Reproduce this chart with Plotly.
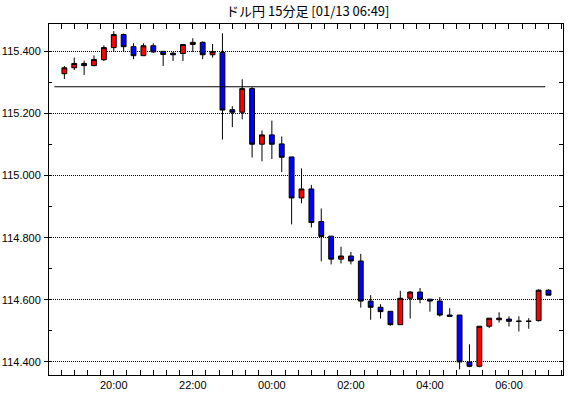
import pandas as pd
import plotly.graph_objects as go

title_text = "ドル円 15分足 [01/13 06:49]"

# 15-minute candles, 2022-01-12 18:45 ... 2022-01-13 07:00 (period timestamps)
times = pd.date_range("2022-01-12 18:45", periods=50, freq="15min")

opens = [115.328, 115.347, 115.361, 115.354, 115.373, 115.412, 115.454, 115.415, 115.386, 115.418,
         115.400, 115.394, 115.393, 115.422, 115.429, 115.389, 115.396, 115.212, 115.204, 115.280,
         115.101, 115.131, 115.102, 115.060, 114.928, 114.957, 114.852, 114.805, 114.731, 114.741,
         114.725, 114.596, 114.576, 114.563, 114.520, 114.605, 114.625, 114.602, 114.596, 114.551,
         114.551, 114.400, 114.386, 114.515, 114.536, 114.538, 114.531, 114.531, 114.533, 114.631]
highs = [115.353, 115.380, 115.370, 115.387, 115.419, 115.465, 115.457, 115.426, 115.426, 115.426,
         115.400, 115.398, 115.422, 115.442, 115.432, 115.424, 115.458, 115.223, 115.310, 115.285,
         115.145, 115.177, 115.126, 115.060, 115.023, 114.970, 114.894, 114.805, 114.771, 114.754,
         114.748, 114.615, 114.586, 114.563, 114.629, 114.628, 114.638, 114.603, 114.609, 114.573,
         114.551, 114.457, 114.515, 114.541, 114.560, 114.547, 114.547, 114.541, 114.634, 114.634]
lows = [115.311, 115.340, 115.324, 115.352, 115.369, 115.398, 115.398, 115.375, 115.386, 115.395,
        115.353, 115.369, 115.369, 115.398, 115.375, 115.380, 115.116, 115.156, 115.181, 115.058,
        115.046, 115.053, 115.011, 114.843, 114.911, 114.833, 114.724, 114.714, 114.717, 114.714,
        114.575, 114.536, 114.540, 114.517, 114.520, 114.540, 114.589, 114.562, 114.546, 114.547,
        114.376, 114.383, 114.383, 114.509, 114.527, 114.514, 114.498, 114.507, 114.530, 114.615]
closes = [115.347, 115.361, 115.354, 115.374, 115.412, 115.454, 115.415, 115.386, 115.418, 115.398,
          115.390, 115.389, 115.422, 115.429, 115.389, 115.399, 115.211, 115.204, 115.280, 115.101,
          115.131, 115.101, 115.059, 114.928, 114.957, 114.849, 114.804, 114.731, 114.741, 114.725,
          114.596, 114.576, 114.562, 114.520, 114.605, 114.625, 114.602, 114.596, 114.551, 114.547,
          114.400, 114.386, 114.515, 114.541, 114.541, 114.531, 114.531, 114.531, 114.631, 114.615]

ref_level = 115.286
ref_start = "2022-01-12 18:30"
ref_end = "2022-01-13 06:55"

y_ticks = [114.4, 114.6, 114.8, 115.0, 115.2, 115.4]
y_tick_text = ["114.400", "114.600", "114.800", "115.000", "115.200", "115.400"]

fig = go.Figure()
fig.add_trace(go.Candlestick(
    x=times, open=opens, high=highs, low=lows, close=closes,
    increasing=dict(fillcolor="#FF0000", line=dict(color="black", width=1)),
    decreasing=dict(fillcolor="#0000FF", line=dict(color="black", width=1)),
    whiskerwidth=0, showlegend=False, hoverinfo="skip",
))
fig.add_trace(go.Scatter(
    x=[ref_start, ref_end], y=[ref_level, ref_level], mode="lines",
    line=dict(color="black", width=1), showlegend=False, hoverinfo="skip",
))
# invisible trace to carry the right-hand axis
fig.add_trace(go.Scatter(x=[times[0]], y=[ref_level], yaxis="y2", mode="markers",
                         marker=dict(opacity=0), showlegend=False, hoverinfo="skip"))

font_ticks = dict(family="Liberation Sans, Arial, sans-serif", size=11, color="black")

fig.update_layout(
    width=570, height=398,
    margin=dict(l=49, r=7, t=24, b=23),
    paper_bgcolor="white", plot_bgcolor="white",
    title=dict(text=title_text, x=0.54, xanchor="center", y=0.972, yanchor="middle",
               font=dict(family="Noto Sans CJK JP", size=13, color="black")),
    xaxis=dict(
        type="date", automargin=False,
        range=["2022-01-12 18:21:40", "2022-01-13 07:22"],
        rangeslider=dict(visible=False),
        showgrid=False, zeroline=False,
        showline=True, linecolor="black", linewidth=1, mirror="allticks",
        ticks="inside", ticklen=5, tickcolor="black", tickwidth=1,
        tick0="2022-01-12 20:00", dtick=7200000, tickformat="%H:%M",
        tickfont=font_ticks,
        minor=dict(ticks="inside", ticklen=3, dtick=1200000, tick0="2022-01-12 20:00",
                   tickcolor="black", showgrid=False),
    ),
    yaxis=dict(
        range=[114.358, 115.488], automargin=False,
        showgrid=True, gridcolor="black", gridwidth=1, griddash="1px,1px",
        zeroline=False,
        showline=True, linecolor="black", linewidth=1,
        tickvals=y_ticks, ticktext=y_tick_text,
        ticks="outside", ticklen=4, tickcolor="black",
        tickfont=font_ticks, ticklabelstandoff=1,
        minor=dict(ticks="inside", ticklen=3, dtick=0.1, tick0=114.3, tickcolor="black",
                   showgrid=False),
    ),
    yaxis2=dict(
        overlaying="y", side="right", matches="y", automargin=False,
        showgrid=False, zeroline=False, showticklabels=False,
        showline=True, linecolor="black", linewidth=1,
        ticks="inside", ticklen=4, tickcolor="black", dtick=0.1, tick0=114.3,
    ),
)

fig.write_html("out.html", config={"displayModeBar": False, "staticPlot": True},
               post_script="document.body.style.margin='0';")
